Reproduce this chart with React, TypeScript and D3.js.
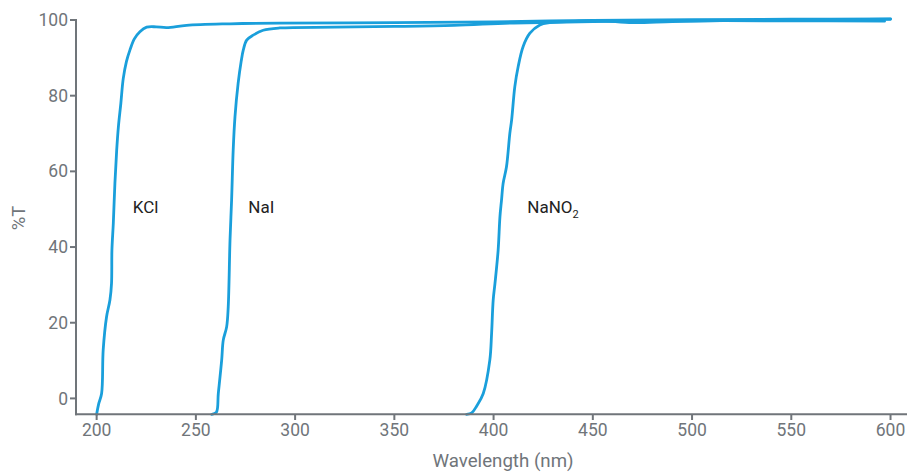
import React from "react";
import * as d3 from "d3";

const xTicks = [200, 250, 300, 350, 400, 450, 500, 550, 600];
const yTicks = [0, 20, 40, 60, 80, 100];

const kcl: [number, number][] = [
  [200, -4.2], [201, -1.5], [202.5, 1.3], [203.3, 12.8], [205, 21.6], [206.7, 26], [207.5, 30.4],
  [207.7, 39.2], [208.4, 46.3], [209.2, 56.8], [210.1, 65.6], [211, 72], [212.2, 78], [213.4, 84.5],
  [215, 89], [216.8, 92.1], [219, 95], [221.8, 96.9], [225.2, 98.1], [230, 98.2], [235.3, 98.0],
  [245.3, 98.6], [267.2, 99.0], [292.3, 99.2], [350, 99.3], [400, 99.5], [450, 99.9], [500, 100.1],
  [550, 100.2], [600, 100.3],
];

const nai: [number, number][] = [
  [258, -4.2], [260.3, -3.7], [261.3, 1.3], [263, 10.1], [263.8, 15.4], [265.5, 18.9], [266.3, 24.2],
  [267.2, 41.8], [268, 52.4], [268.8, 65.6], [269.7, 74.4], [271.3, 83.3], [272.8, 89], [273.9, 92.1],
  [275.6, 94.7], [278.9, 96], [283.9, 97.3], [292.3, 97.9], [320, 98.1], [350, 98.3], [380, 98.6],
  [410, 99.2], [450, 99.6], [500, 99.8], [550, 99.8], [597, 99.7],
];

const nano2: [number, number][] = [
  [386.4, -4.2], [389, -3.8], [391.5, -2], [394.8, 1.3], [398.1, 10.1], [399, 17.2], [399.8, 26],
  [400.7, 30.4], [402.3, 39.2], [403.2, 48], [404, 52.4], [404.8, 56.8], [406.5, 61.2], [408.2, 70.1],
  [409.1, 73.6], [410.7, 82.4], [412.4, 87.7], [414.9, 93], [418.3, 96.5], [423.3, 98.7], [428.3, 99.3],
  [440, 99.6], [453.5, 99.8], [470, 99.3], [490, 99.6], [520, 99.9], [560, 100], [600, 100.2],
];

const seriesNames = ["KCl", "NaI", "NaNO"];
const seriesData = [kcl, nai, nano2];
const labelPos: [number, number][] = [[218.2, 49], [276.4, 49], [417, 49]];

export default function App() {
  const W = 907, H = 472;
  const x = d3.scaleLinear().domain([189.6, 608.3]).range([76, 907]);
  const y = d3.scaleLinear().domain([-4.2, 100]).range([414.3, 20]);
  const line = d3.line<[number, number]>()
    .x(d => x(d[0]))
    .y(d => y(d[1]))
    .curve(d3.curveCatmullRom.alpha(0.5));
  const axisColor = "#70757a";
  const font = "Roboto, 'Noto Sans', sans-serif";
  const blue = "#1a9fdb";
  return (
    <svg width={W} height={H} style={{ position: "absolute", left: 0, top: 0 }} fontFamily={font}>
      <rect width={W} height={H} fill="#fff" />
      {seriesData.map((d, i) => (
        <path key={i} d={line(d) || ""} fill="none" stroke={blue} strokeWidth={2.8} strokeLinejoin="round" strokeLinecap="round" />
      ))}
      <line x1={76} x2={76} y1={19} y2={415.3} stroke={axisColor} strokeWidth={2} />
      <line x1={75} x2={907} y1={414.3} y2={414.3} stroke={axisColor} strokeWidth={2} />
      {yTicks.map(t => (
        <g key={t}>
          <line x1={70} x2={76} y1={y(t)} y2={y(t)} stroke={axisColor} strokeWidth={2} />
          <text x={68} y={y(t)} dy="0.35em" textAnchor="end" fontSize={17.5} fill={axisColor}>{t}</text>
        </g>
      ))}
      {xTicks.map(t => (
        <g key={t}>
          <line x1={x(t)} x2={x(t)} y1={414.3} y2={420} stroke={axisColor} strokeWidth={2} />
          <text x={x(t)} y={436} textAnchor="middle" fontSize={17.5} fill={axisColor}>{t}</text>
        </g>
      ))}
      <text transform="translate(25,218) rotate(-90)" textAnchor="middle" fontSize={18.5} fill={axisColor}>%T</text>
      <text x={503} y={466.5} textAnchor="middle" fontSize={18.7} fill={axisColor}>Wavelength (nm)</text>
      {seriesNames.map((n, i) => (
        <text key={n} x={x(labelPos[i][0])} y={y(labelPos[i][1])} fontSize={17} fill="#222">
          {n}
          {i === 2 ? <tspan fontSize={11} dy={5}>2</tspan> : null}
        </text>
      ))}
    </svg>
  );
}
